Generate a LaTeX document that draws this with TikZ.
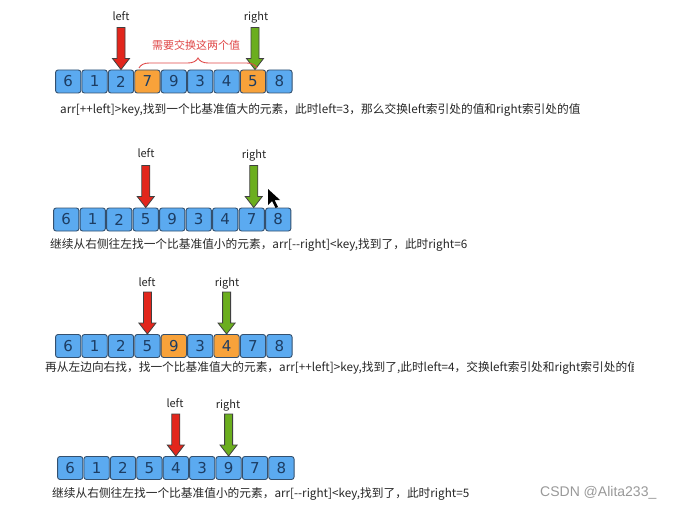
\documentclass[tikz,border=0pt]{standalone}
\usepackage{fontspec}
\setmainfont{Noto Sans CJK SC}
\newfontfamily\digitfont{DejaVu Sans}
\newfontfamily\wmfont{Liberation Sans}
\usetikzlibrary{decorations.pathreplacing}
\definecolor{cellblue}{HTML}{5BAAF0}
\definecolor{cellorange}{HTML}{F8A23A}
\definecolor{celledge}{HTML}{34506E}
\definecolor{digit}{HTML}{1D3D63}
\definecolor{arrred}{HTML}{E2261C}
\definecolor{arrgreen}{HTML}{6BAE1E}
\definecolor{txt}{HTML}{262626}
\definecolor{bracered}{HTML}{E04848}
\tikzset{
  cell/.style={draw=celledge, line width=0.9pt, rounded corners=2.5pt, minimum width=25.3pt, minimum height=23pt, inner sep=0pt, font=\digitfont\fontsize{15}{15}\selectfont, text=digit},
  blue/.style={cell, fill=cellblue},
  orange/.style={cell, fill=cellorange},
  ptrlabel/.style={font=\fontsize{11}{12}\selectfont, text=txt, inner sep=0pt},
  caption/.style={font=\fontsize{11.7}{13}\selectfont, text=txt, anchor=west, inner sep=0pt},
  downarrow/.pic={\path[draw=black!75, line width=0.8pt, fill=#1, line join=miter]
     (-4,-42) -- (-4,-11) -- (-8.5,-11) -- (0,0) -- (8.5,-11) -- (4,-11) -- (4,-42) -- cycle;}
}
\begin{document}
\begin{tikzpicture}[x=1pt,y=-1pt]
\useasboundingbox[fill=white] (0,0) rectangle (678,511);
% row 1
\foreach \v/\s [count=\i from 0] in {6/blue,1/blue,2/blue,7/orange,9/blue,3/blue,4/blue,5/orange,8/blue}
  \node[\s] (a\i) at ({55+26.4*(\i+0.5)},81.5) {\v};
\pic at (a2.north) {downarrow=arrred};
\pic at ([xshift=2pt]a7.north) {downarrow=arrgreen};
\node[ptrlabel] (al) at (121,16) {left};
\node[ptrlabel] (ar) at (256,17) {right};
\coordinate (bl) at (139,68);
\coordinate (br) at (257,68);
\draw[bracered, line width=0.9pt, decorate, decoration={brace, amplitude=10pt}] (bl) -- (br);
\node[font=\fontsize{11}{12}\selectfont, text=bracered, inner sep=0pt] (bt) at (196,45) {需要交换这两个值};
\node[caption] (c1) at (60,110) {arr[++left]>key,找到一个比基准值大的元素，此时left=3，那么交换left索引处的值和right索引处的值};
% row 2
\foreach \v [count=\i from 0] in {6,1,2,5,9,3,4,7,8}
  \node[blue] (b\i) at ({53+26.5*(\i+0.5)},219.5) {\v};
\pic at (b3.north) {downarrow=arrred};
\pic at ([xshift=2pt]b7.north) {downarrow=arrgreen};
\node[ptrlabel] (bl2) at (146,153) {left};
\node[ptrlabel] (br2) at (254,155) {right};
\fill[black] (268,189) -- (268,205) -- (272,201) -- (275.5,208) -- (278,207) -- (274.5,200) -- (280,200) -- cycle;
\node[caption] (c2) at (50,245) {继续从右侧往左找一个比基准值小的元素，arr[-{}-right]<key,找到了，此时right=6};
% row 3
\foreach \v/\s [count=\i from 0] in {6/blue,1/blue,2/blue,5/blue,9/orange,3/blue,4/orange,7/blue,8/blue}
  \node[\s] (c\i) at ({55+26.4*(\i+0.5)},346) {\v};
\pic at (c3.north) {downarrow=arrred};
\pic at (c6.north) {downarrow=arrgreen};
\node[ptrlabel] (cl) at (147,282) {left};
\node[ptrlabel] (cr) at (227,283) {right};
\begin{scope}
\clip (0,355) rectangle (633,385);
\node[caption] (c3t) at (45,368) {再从左边向右找，找一个比基准值大的元素，arr[++left]>key,找到了,此时left=4，交换left索引处和right索引处的值};
\end{scope}
% row 4
\foreach \v [count=\i from 0] in {6,1,2,5,4,3,9,7,8}
  \node[blue] (d\i) at ({57+26.4*(\i+0.5)},468) {\v};
\pic at (d4.north) {downarrow=arrred};
\pic at (d6.north) {downarrow=arrgreen};
\node[ptrlabel] (dl) at (175,403) {left};
\node[ptrlabel] (dr) at (228,405) {right};
\node[caption] (c4) at (52,494) {继续从右侧往左找一个比基准值小的元素，arr[-{}-right]<key,找到了，此时right=5};
\node[font=\wmfont\fontsize{14}{15}\selectfont, text=black!40, anchor=west, inner sep=0pt] (wm) at (540,493) {CSDN @Alita233\_};
\end{tikzpicture}
\end{document}
